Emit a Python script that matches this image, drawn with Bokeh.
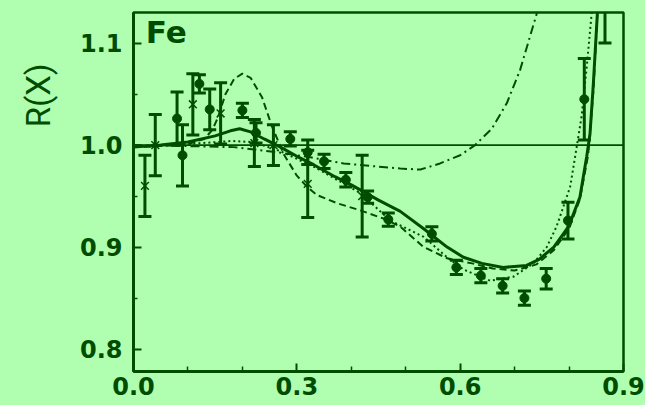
import numpy as np
from bokeh.plotting import figure
from bokeh.models import Range1d, FixedTicker, Span, Label, Title
from bokeh.embed import file_html
from bokeh.resources import INLINE

BG = "#b0ffb0"
INK = "#004d00"

# ---- ticks ----
x_ticks = [0.0, 0.3, 0.6, 0.9]
x_tick_labels = ["0.0", "0.3", "0.6", "0.9"]
x_minor = [0.1, 0.2, 0.4, 0.5, 0.7, 0.8]
y_ticks = [0.8, 0.9, 1.0, 1.1]
y_tick_labels = ["0.8", "0.9", "1.0", "1.1"]
y_minor = [0.85, 0.95, 1.05]

# ---- data: filled circles ----
dot_x = [0.080, 0.090, 0.121, 0.140, 0.200, 0.225, 0.288, 0.320, 0.350, 0.390, 0.430,
         0.468, 0.548, 0.593, 0.638, 0.678, 0.718, 0.758, 0.798, 0.828, 0.866]
dot_y = [1.026, 0.990, 1.060, 1.035, 1.034, 1.012, 1.006, 0.993, 0.984, 0.966, 0.949,
         0.927, 0.913, 0.880, 0.872, 0.862, 0.850, 0.869, 0.926, 1.045, 1.150]
dot_err = [0.026, 0.030, 0.009, 0.020, 0.007, 0.010, 0.007, 0.012, 0.007, 0.007, 0.006,
           0.0065, 0.007, 0.007, 0.007, 0.007, 0.007, 0.010, 0.018, 0.040, 0.050]

# ---- data: crosses ----
cross_x = [0.021, 0.040, 0.109, 0.160, 0.222, 0.257, 0.320, 0.420]
cross_y = [0.960, 1.000, 1.040, 1.031, 1.002, 1.000, 0.962, 0.950]
cross_err = [0.030, 0.030, 0.030, 0.030, 0.023, 0.020, 0.033, 0.040]

# ---- curves ----
solid_x = [0.0, 0.05, 0.10, 0.15, 0.178, 0.195, 0.215, 0.24, 0.27, 0.30, 0.33, 0.37, 0.40,
           0.45, 0.49, 0.533, 0.576, 0.606, 0.640, 0.679, 0.722, 0.745, 0.772, 0.799,
           0.820, 0.8325, 0.8385, 0.8446, 0.852, 0.857]
solid_y = [0.998, 1.000, 1.003, 1.009, 1.014, 1.016, 1.013, 1.006, 0.998, 0.989, 0.981,
           0.969, 0.961, 0.946, 0.935, 0.918, 0.900, 0.890, 0.884, 0.880, 0.882, 0.888,
           0.900, 0.920, 0.949, 0.989, 1.011, 1.060, 1.129, 1.17]

dash_x = [0.0, 0.05, 0.10, 0.13, 0.145, 0.155, 0.169, 0.185, 0.20, 0.215, 0.236, 0.2545,
          0.276, 0.30, 0.319, 0.337, 0.374, 0.4165, 0.459, 0.49, 0.533, 0.576, 0.622,
          0.66, 0.70, 0.74, 0.772, 0.80, 0.82, 0.835, 0.845, 0.852, 0.857]
dash_y = [0.998, 0.999, 1.001, 1.006, 1.015, 1.027, 1.050, 1.065, 1.070, 1.066, 1.047,
          1.018, 0.991, 0.970, 0.959, 0.951, 0.943, 0.936, 0.928, 0.920, 0.900, 0.889,
          0.884, 0.879, 0.877, 0.883, 0.897, 0.918, 0.947, 0.990, 1.055, 1.129, 1.17]

dd_x = [0.0, 0.10, 0.184, 0.264, 0.325, 0.386, 0.447, 0.49, 0.527, 0.563, 0.60, 0.6275,
        0.658, 0.6856, 0.71, 0.728, 0.7407, 0.748]
dd_y = [1.000, 0.999, 0.998, 0.993, 0.988, 0.982, 0.979, 0.977, 0.976, 0.982, 0.990, 1.000,
        1.016, 1.041, 1.0735, 1.106, 1.129, 1.15]

dotc_x = [0.0, 0.10, 0.18, 0.22, 0.27, 0.334, 0.4165, 0.4716, 0.533, 0.576, 0.606, 0.655,
          0.698, 0.7345, 0.759, 0.777, 0.802, 0.814, 0.823, 0.8325, 0.8415, 0.846]
dotc_y = [0.998, 1.001, 1.004, 1.003, 0.994, 0.978, 0.953, 0.926, 0.910, 0.890, 0.878,
          0.867, 0.871, 0.884, 0.900, 0.920, 0.959, 0.998, 1.028, 1.077, 1.129, 1.16]

X0, X1 = 0.0, 0.9
Y0, Y1 = 0.778, 1.130
FRAME_H = 359
ppu = FRAME_H / (Y1 - Y0)

p = figure(width=645, height=405, x_range=Range1d(X0, X1), y_range=Range1d(Y0, Y1),
           output_backend="svg", toolbar_location=None,
           min_border_left=133, min_border_right=22, min_border_top=12, min_border_bottom=34)
p.background_fill_color = BG
p.border_fill_color = BG
p.grid.visible = False
p.outline_line_color = INK
p.outline_line_width = 2.5

for ax in (p.xaxis[0], p.yaxis[0]):
    ax.axis_line_color = INK
    ax.axis_line_width = 3
    ax.major_tick_line_color = INK
    ax.minor_tick_line_color = INK
    ax.major_tick_line_width = 2
    ax.minor_tick_line_width = 1.5
    ax.major_tick_in = 8
    ax.major_tick_out = 0
    ax.minor_tick_out = 0
    ax.major_label_text_font = "DejaVu Sans"
    ax.major_label_text_font_style = "bold"
    ax.major_label_text_font_size = "24px"
    ax.major_label_text_color = INK

p.xaxis.ticker = FixedTicker(ticks=x_ticks, minor_ticks=x_minor)
p.xaxis.minor_tick_in = 5
p.xaxis.major_label_overrides = {t: l for t, l in zip(x_ticks, x_tick_labels)}
p.xaxis.major_label_standoff = 5

p.yaxis.ticker = FixedTicker(ticks=y_ticks, minor_ticks=y_minor)
p.yaxis.minor_tick_in = 4
p.yaxis.major_label_overrides = {t: l for t, l in zip(y_ticks, y_tick_labels)}
p.yaxis.major_label_standoff = 11

# y-axis title, placed in the left panel near the top
p.add_layout(Title(text="R(X)", align="right", vertical_align="top", offset=51, standoff=33,
                   text_font="Roboto", text_font_size="33px",
                   text_font_style="normal", text_color=INK), "left")

# reference line at 1
p.add_layout(Span(location=1.0, dimension="width", line_color=INK, line_width=1.6))

# curves
p.line(solid_x, solid_y, line_color=INK, line_width=3)
p.line(dash_x, dash_y, line_color=INK, line_width=2, line_dash="7 4")
p.line(dd_x, dd_y, line_color=INK, line_width=2, line_dash="9 4 2 4")
p.line(dotc_x, dotc_y, line_color=INK, line_width=2, line_dash="2 3")

# error bars
def errbars(xs, ys, es):
    xs = np.array(xs); ys = np.array(ys); es = np.array(es)
    p.segment(x0=xs, y0=ys - es, x1=xs, y1=ys + es, line_color=INK, line_width=3)
    p.scatter(np.concatenate([xs, xs]), np.concatenate([ys - es, ys + es]),
              marker="dash", size=13, line_color=INK, line_width=3)

errbars(cross_x, cross_y, cross_err)
errbars(dot_x, dot_y, dot_err)
p.scatter(cross_x, cross_y, marker="x", size=11, line_color=INK, line_width=1.5)
p.scatter(dot_x, dot_y, marker="circle", size=9, fill_color=INK, line_color=INK)

# Fe
p.add_layout(Label(x=0.0226, y=1.1 + 11.5 / ppu, text="Fe", text_align="left",
                   text_baseline="alphabetic",
                   text_font="DejaVu Sans", text_font_style="bold", text_font_size="31px",
                   text_color=INK))

html = file_html(p, INLINE)
html = html.replace("<head>", "<head><style>html,body{background:%s;margin:0;padding:0;overflow:hidden;}</style>" % BG, 1)
open("out.html", "w").write(html)
